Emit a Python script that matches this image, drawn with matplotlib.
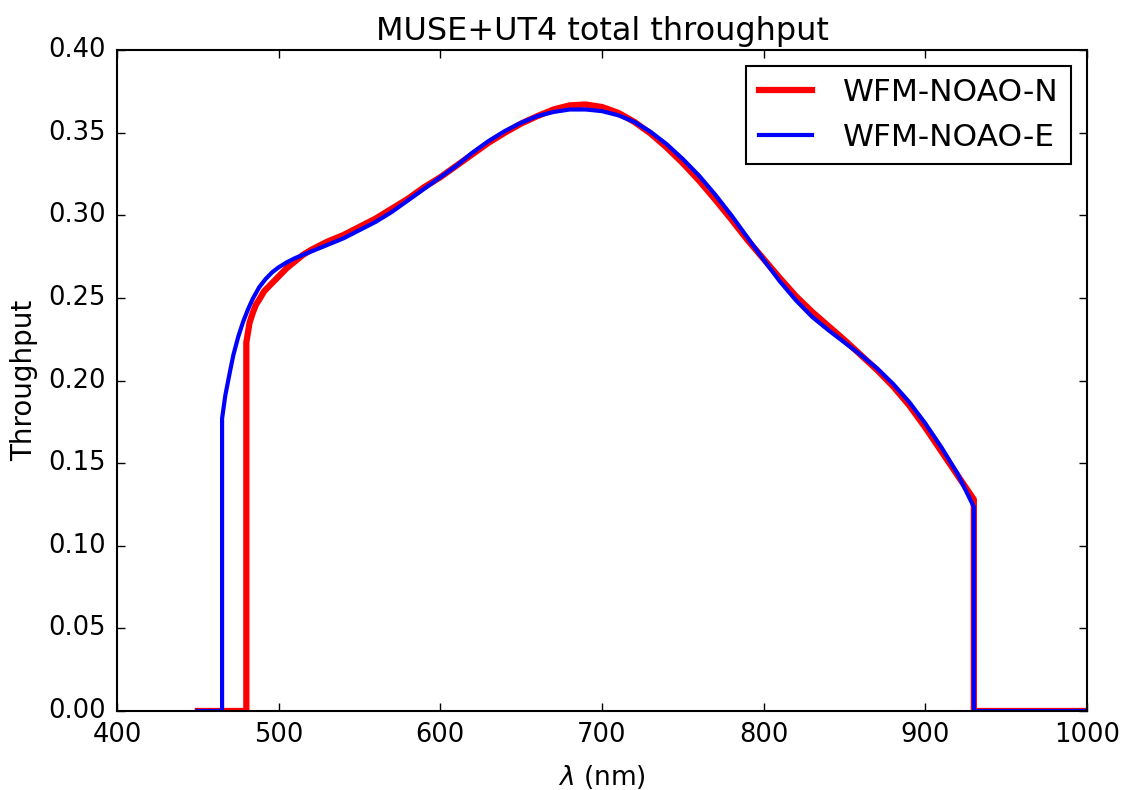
import matplotlib
matplotlib.use("Agg")
import matplotlib.pyplot as plt

# --- dados (nm, throughput) ---
wl_n = [450, 480, 480, 481, 482, 484, 486, 488, 491, 494, 497, 500, 505, 510, 515,
        520, 530, 540, 550, 560, 570, 580, 590, 600, 610, 620, 630, 640, 650, 660,
        670, 680, 690, 700, 710, 720, 730, 740, 750, 760, 770, 780, 790, 800, 810,
        820, 830, 840, 850, 860, 870, 880, 890, 900, 910, 920, 930, 930, 1000]
tp_n = [0.0, 0.0, 0.223, 0.229, 0.235, 0.241, 0.246, 0.249, 0.254, 0.257, 0.260,
        0.263, 0.268, 0.272, 0.276, 0.279, 0.284, 0.288, 0.293, 0.298, 0.304, 0.310,
        0.317, 0.323, 0.330, 0.337, 0.344, 0.350, 0.3555, 0.360, 0.364, 0.3665,
        0.367, 0.3655, 0.362, 0.3565, 0.3495, 0.341, 0.3315, 0.321, 0.3095, 0.2975,
        0.285, 0.2735, 0.262, 0.251, 0.2415, 0.233, 0.2245, 0.2155, 0.2065, 0.1965,
        0.185, 0.1715, 0.157, 0.1425, 0.128, 0.0, 0.0]

wl_e = [450, 465, 465, 467, 470, 472, 475, 478, 481, 484, 488, 492, 496, 500, 505,
        510, 515, 520, 530, 540, 550, 560, 570, 580, 590, 600, 610, 620, 630, 640,
        650, 660, 670, 680, 690, 700, 710, 720, 730, 740, 750, 760, 770, 780, 790,
        800, 810, 820, 830, 840, 850, 860, 870, 880, 890, 900, 910, 920, 930, 930, 1000]
tp_e = [0.0, 0.0, 0.177, 0.191, 0.206, 0.2155, 0.2265, 0.2355, 0.243, 0.2495, 0.2565,
        0.2615, 0.2655, 0.2685, 0.2715, 0.274, 0.276, 0.278, 0.282, 0.286, 0.291, 0.296,
        0.302, 0.309, 0.316, 0.323, 0.330, 0.338, 0.345, 0.351, 0.356, 0.360, 0.3625,
        0.364, 0.364, 0.363, 0.3605, 0.3565, 0.3505, 0.343, 0.334, 0.324, 0.3125,
        0.300, 0.2865, 0.273, 0.260, 0.2485, 0.2385, 0.2305, 0.223, 0.2155, 0.2075,
        0.198, 0.187, 0.174, 0.1595, 0.1435, 0.1235, 0.0, 0.0]

plt.style.use("classic")
plt.rcParams.update({
    "figure.facecolor": "white",
    "savefig.facecolor": "white",
    "font.family": "DejaVu Sans",
    "font.size": 18.5,
    "mathtext.fontset": "dejavusans",
    "axes.linewidth": 1.5,
    "xtick.major.size": 6,
    "ytick.major.size": 6,
    "xtick.major.width": 1.0,
    "ytick.major.width": 1.0,
    "xtick.major.pad": 8,
    "ytick.major.pad": 8,
})

fig = plt.figure(figsize=(11.23, 7.9), dpi=100)
ax = fig.add_axes([117 / 1123, 79 / 790, 970 / 1123, 661 / 790])

ax.plot(wl_n, tp_n, color="red", lw=4.5, label="WFM-NOAO-N")
ax.plot(wl_e, tp_e, color="blue", lw=3, label="WFM-NOAO-E")

ax.set_xlim(400, 1000)
ax.set_ylim(0, 0.40)
ax.set_xticks(range(400, 1001, 100))
ax.set_yticks([i * 0.05 for i in range(9)])
ax.set_yticklabels([f"{i * 0.05:.2f}" for i in range(9)])
ax.set_xlabel(r"$\lambda$ (nm)", fontsize=19, labelpad=11)
ax.set_ylabel("Throughput", fontsize=20, labelpad=7)
ax.set_title("MUSE+UT4 total throughput", fontsize=23, pad=7)

leg = ax.legend(loc="upper right", fontsize=22.5, fancybox=False, numpoints=1,
                handlelength=1.7, handletextpad=1.0, borderaxespad=0.5)
leg.get_frame().set_linewidth(1.5)

fig.savefig("out.png", dpi=100)
